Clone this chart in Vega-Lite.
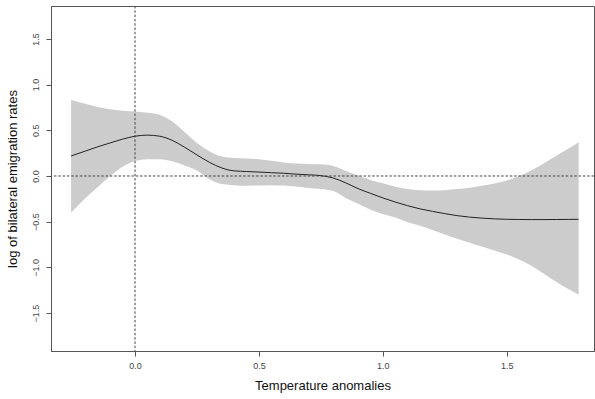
{
  "$schema": "https://vega.github.io/schema/vega-lite/v6.json",
  "width": 543,
  "height": 345,
  "autosize": {"type": "none"},
  "padding": {"left": 51, "top": 6, "right": 1, "bottom": 48},
  "background": "white",
  "config": {
    "view": {"stroke": "#555555", "strokeWidth": 1},
    "font": "Liberation Sans",
    "axis": {
      "grid": false,
      "domainColor": "#555555",
      "tickColor": "#555555",
      "tickSize": 5,
      "labelFont": "Liberation Sans",
      "labelFontSize": 9,
      "labelColor": "#444444",
      "titleFont": "Liberation Sans",
      "titleFontSize": 13,
      "titleFontWeight": "normal",
      "titleColor": "#111111"
    }
  },
  "datasets": {
    "curve": [
      {"x": -0.258, "fit": 0.219, "lo": -0.401, "hi": 0.832},
      {"x": -0.2, "fit": 0.273, "lo": -0.24, "hi": 0.79},
      {"x": -0.15, "fit": 0.32, "lo": -0.12, "hi": 0.755},
      {"x": -0.1, "fit": 0.362, "lo": 0.0, "hi": 0.73},
      {"x": -0.05, "fit": 0.403, "lo": 0.1, "hi": 0.715},
      {"x": 0.0, "fit": 0.435, "lo": 0.165, "hi": 0.705},
      {"x": 0.05, "fit": 0.447, "lo": 0.183, "hi": 0.692},
      {"x": 0.1, "fit": 0.435, "lo": 0.182, "hi": 0.668},
      {"x": 0.15, "fit": 0.39, "lo": 0.16, "hi": 0.595},
      {"x": 0.2, "fit": 0.315, "lo": 0.115, "hi": 0.48},
      {"x": 0.25, "fit": 0.23, "lo": 0.06, "hi": 0.36},
      {"x": 0.3, "fit": 0.15, "lo": -0.035, "hi": 0.27},
      {"x": 0.35, "fit": 0.088, "lo": -0.088, "hi": 0.212},
      {"x": 0.4, "fit": 0.056, "lo": -0.1, "hi": 0.196},
      {"x": 0.45, "fit": 0.049, "lo": -0.106, "hi": 0.192},
      {"x": 0.5, "fit": 0.043, "lo": -0.104, "hi": 0.183},
      {"x": 0.55, "fit": 0.036, "lo": -0.1, "hi": 0.166},
      {"x": 0.6, "fit": 0.03, "lo": -0.105, "hi": 0.148},
      {"x": 0.65, "fit": 0.02, "lo": -0.115, "hi": 0.136},
      {"x": 0.7, "fit": 0.013, "lo": -0.132, "hi": 0.132},
      {"x": 0.75, "fit": 0.004, "lo": -0.143, "hi": 0.128},
      {"x": 0.8, "fit": -0.022, "lo": -0.165, "hi": 0.108},
      {"x": 0.85, "fit": -0.075, "lo": -0.24, "hi": 0.055},
      {"x": 0.9, "fit": -0.138, "lo": -0.305, "hi": 0.005},
      {"x": 0.95, "fit": -0.19, "lo": -0.37, "hi": -0.045},
      {"x": 1.0, "fit": -0.24, "lo": -0.415, "hi": -0.08},
      {"x": 1.05, "fit": -0.285, "lo": -0.455, "hi": -0.118},
      {"x": 1.1, "fit": -0.325, "lo": -0.505, "hi": -0.142},
      {"x": 1.15, "fit": -0.36, "lo": -0.545, "hi": -0.155},
      {"x": 1.2, "fit": -0.387, "lo": -0.59, "hi": -0.16},
      {"x": 1.25, "fit": -0.412, "lo": -0.64, "hi": -0.155},
      {"x": 1.3, "fit": -0.434, "lo": -0.688, "hi": -0.143},
      {"x": 1.35, "fit": -0.45, "lo": -0.73, "hi": -0.128},
      {"x": 1.4, "fit": -0.461, "lo": -0.772, "hi": -0.108},
      {"x": 1.45, "fit": -0.469, "lo": -0.815, "hi": -0.083},
      {"x": 1.5, "fit": -0.474, "lo": -0.86, "hi": -0.05},
      {"x": 1.55, "fit": -0.476, "lo": -0.915, "hi": 0.0},
      {"x": 1.6, "fit": -0.477, "lo": -0.985, "hi": 0.062},
      {"x": 1.65, "fit": -0.477, "lo": -1.07, "hi": 0.14},
      {"x": 1.7, "fit": -0.476, "lo": -1.16, "hi": 0.222},
      {"x": 1.75, "fit": -0.475, "lo": -1.24, "hi": 0.3},
      {"x": 1.79, "fit": -0.474, "lo": -1.3, "hi": 0.368}
    ],
    "refs": [
      {"ref": 0}
    ]
  },
  "layer": [
    {
      "data": {"name": "curve"},
      "mark": {"type": "area", "color": "#cccccc", "opacity": 1, "interpolate": "monotone"},
      "encoding": {
        "x": {
          "field": "x",
          "type": "quantitative",
          "scale": {"domain": [-0.339, 1.852], "nice": false, "zero": false},
          "axis": {
            "title": "Temperature anomalies",
            "values": [0, 0.5, 1, 1.5],
            "format": ".1f",
            "labelPadding": 5,
            "titlePadding": 9
          }
        },
        "y": {
          "field": "lo",
          "type": "quantitative",
          "scale": {"domain": [-1.915, 1.86], "nice": false, "zero": false},
          "axis": {
            "title": "log of bilateral emigration rates",
            "values": [-1.5, -1, -0.5, 0, 0.5, 1, 1.5],
            "format": ".1f",
            "labelAngle": 270,
            "labelAlign": "center",
            "labelBaseline": "bottom",
            "labelPadding": 6,
            "titlePadding": 12
          }
        },
        "y2": {"field": "hi"}
      }
    },
    {
      "data": {"name": "curve"},
      "mark": {"type": "line", "color": "#222222", "strokeWidth": 1, "interpolate": "monotone"},
      "encoding": {
        "x": {"field": "x", "type": "quantitative"},
        "y": {"field": "fit", "type": "quantitative"}
      }
    },
    {
      "data": {"name": "refs"},
      "mark": {"type": "rule", "color": "#444444", "strokeWidth": 1, "strokeDash": [2.5, 1.8]},
      "encoding": {"x": {"field": "ref", "type": "quantitative"}}
    },
    {
      "data": {"name": "refs"},
      "mark": {"type": "rule", "color": "#444444", "strokeWidth": 1, "strokeDash": [2.5, 1.8]},
      "encoding": {"y": {"field": "ref", "type": "quantitative"}}
    }
  ]
}
